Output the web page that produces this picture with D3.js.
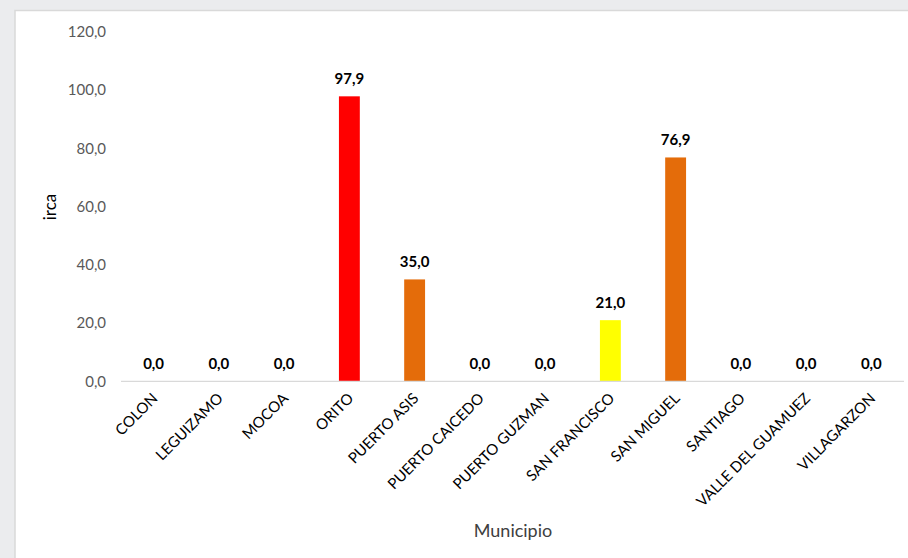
<!DOCTYPE html>
<html><head><meta charset="utf-8">
<script src="https://cdn.jsdelivr.net/npm/d3@7"></script>
<style>
html,body{margin:0;padding:0;background:#ebecee;overflow:hidden;}
svg{display:block;}
</style></head><body>
<svg id="chart" width="908" height="558"></svg>
<script>
const categories = ["COLON","LEGUIZAMO","MOCOA","ORITO","PUERTO ASIS","PUERTO CAICEDO","PUERTO GUZMAN","SAN FRANCISCO","SAN MIGUEL","SANTIAGO","VALLE DEL GUAMUEZ","VILLAGARZON"];
const values = [0.0,0.0,0.0,97.9,35.0,0.0,0.0,21.0,76.9,0.0,0.0,0.0];
const barColors = ["#ff0000","#ff0000","#ff0000","#ff0000","#e46c0a","#ff0000","#ff0000","#ffff00","#e46c0a","#ff0000","#ff0000","#ff0000"];
const yTicks = [0,20,40,60,80,100,120];
const yTitle = "irca";
const xTitle = "Municipio";

const svg = d3.select("#chart");
const font = "Lato, 'Open Sans', sans-serif";
svg.append("rect").attr("x",15).attr("y",10.5).attr("width",920).attr("height",600)
  .attr("fill","#ffffff").attr("stroke","#d9d9d9").attr("stroke-width",1.5);

const x = d3.scaleBand().domain(categories).range([121,904]).paddingInner(0.68).paddingOuter(0.34);
const y = d3.scaleLinear().domain([0,120]).range([381.3,32]);
const fmt = v => d3.format(".1f")(v).replace(".", ",");

svg.append("g").selectAll("text").data(yTicks).join("text")
  .attr("x",106).attr("y",d=>y(d)).attr("dy","0.35em").attr("text-anchor","end")
  .attr("font-family",font).attr("font-size",15).attr("fill","#595959").text(d=>fmt(d));

svg.append("g").selectAll("rect").data(values).join("rect")
  .attr("x",(d,i)=>x(categories[i])).attr("width",x.bandwidth())
  .attr("y",d=>y(d)).attr("height",d=>y(0)-y(d)).attr("fill",(d,i)=>barColors[i]);

svg.append("line").attr("x1",121).attr("x2",904).attr("y1",y(0)).attr("y2",y(0))
  .attr("stroke","#d9d9d9").attr("stroke-width",1.3);

svg.append("g").selectAll("text").data(values).join("text")
  .attr("x",(d,i)=>x(categories[i])+x.bandwidth()/2).attr("y",d=>y(d)-12)
  .attr("text-anchor","middle").attr("font-family",font).attr("font-weight","bold")
  .attr("font-size",15).attr("fill","#000000").text(d=>fmt(d));

svg.append("g").selectAll("text").data(categories).join("text")
  .attr("transform",d=>`translate(${x(d)+x.bandwidth()/2+5},${y(0)+18}) rotate(-45)`)
  .attr("text-anchor","end").attr("font-family",font).attr("font-size",15)
  .attr("fill","#000000").text(d=>d);

svg.append("text").attr("transform",`translate(56,207) rotate(-90)`)
  .attr("text-anchor","middle").attr("font-family",font).attr("font-size",17)
  .attr("fill","#000000").text(yTitle);
svg.append("text").attr("x",513).attr("y",537).attr("text-anchor","middle")
  .attr("font-family",font).attr("font-size",18).attr("fill","#404040").text(xTitle);
</script></body></html>
